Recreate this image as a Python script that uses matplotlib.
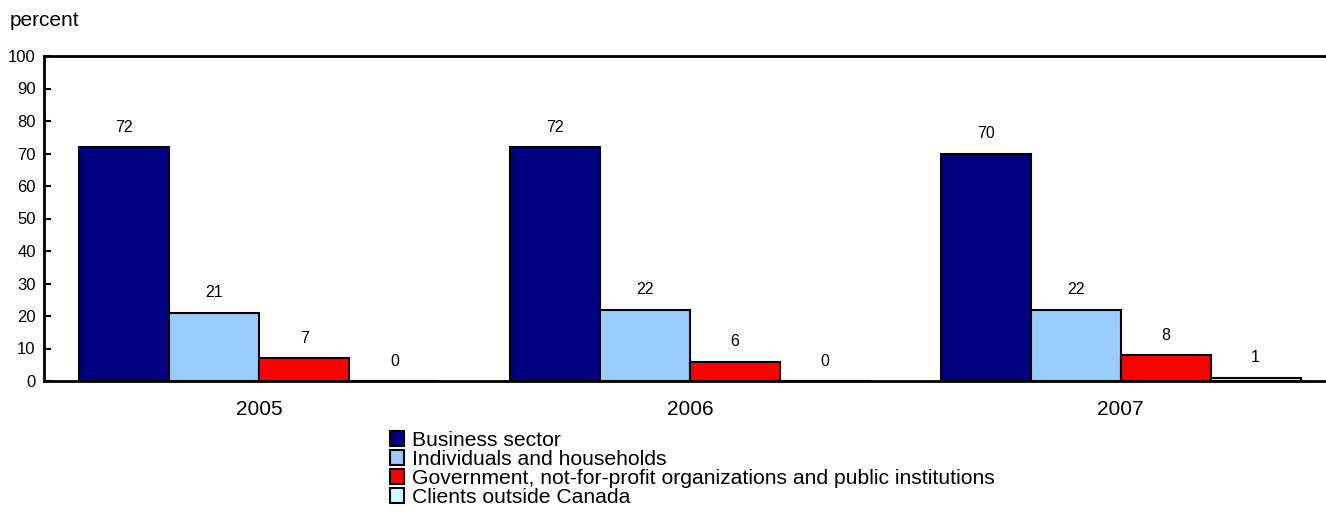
import matplotlib.pyplot as plt
import numpy as np

plt.rcParams["font.family"] = ["Liberation Sans", "DejaVu Sans"]

# Shares by client type, percent
years = ["2005", "2006", "2007"]
series = [
    "Business sector",
    "Individuals and households",
    "Government, not-for-profit organizations and public institutions",
    "Clients outside Canada",
]
business = [72, 72, 70]
individuals = [21, 22, 22]
government = [7, 6, 8]
outside = [0, 0, 1]

colors = ["#000080", "#99ccff", "#ff0000", "#ccffff"]
values = [business, individuals, government, outside]

bar_width = 0.209
x = np.arange(len(years))

fig = plt.figure(figsize=(13.26, 5.16), dpi=100)
ax = fig.add_axes([44 / 1326, 135 / 516, 1292 / 1326, 325 / 516])

for i, (name, vals, col) in enumerate(zip(series, values, colors)):
    pos = x + (i - 1.5) * bar_width
    ax.bar(pos, vals, width=bar_width, color=col, edgecolor="black",
           linewidth=1.5, label=name)
    for px, v in zip(pos, vals):
        ax.annotate(str(v), (px, v), xytext=(0, 9), textcoords="offset points",
                    ha="center", va="bottom", fontsize=11.5)

ax.set_xlim(-0.5, 2.5)
ax.set_ylim(0, 100)
ax.set_yticks(range(0, 101, 10))
ax.set_xticks(x)
ax.set_xticklabels(years, fontsize=15)
ax.tick_params(axis="x", length=0, pad=14)
ax.tick_params(axis="y", direction="in", length=5, width=1.5, labelsize=12, pad=6)
for side in ["left", "top", "bottom"]:
    ax.spines[side].set_linewidth(2)
ax.spines["right"].set_visible(False)

fig.text(10 / 1326, 1 - 20 / 516, "percent", fontsize=15, va="center", ha="left")

fig.legend(loc="upper left", bbox_to_anchor=(390 / 1326, 1 - 431 / 516),
           frameon=False, fontsize=15.25, handlelength=0.65, handleheight=0.65,
           handletextpad=0.4, labelspacing=0.0, borderpad=0, borderaxespad=0)

fig.savefig("out.png", dpi=100)
